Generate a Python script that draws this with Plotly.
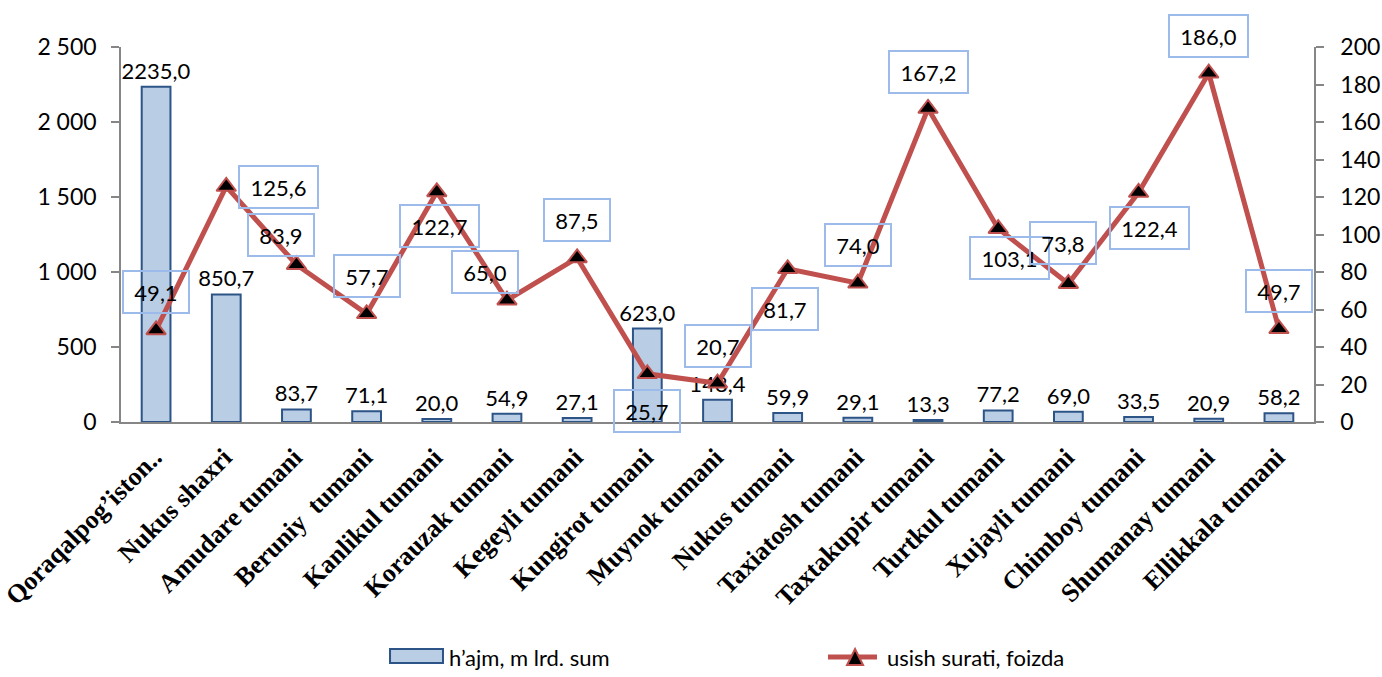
import plotly.graph_objects as go

categories = ["Qoraqalpog’iston..", "Nukus shaxri", "Amudare tumani", "Beruniy  tumani",
              "Kanlikul tumani", "Korauzak tumani", "Kegeyli tumani", "Kungirot tumani",
              "Muynok tumani", "Nukus tumani", "Taxiatosh tumani", "Taxtakupir tumani",
              "Turtkul tumani", "Xujayli tumani", "Chimboy tumani", "Shumanay tumani",
              "Ellikkala tumani"]
hajm = [2235.0, 850.7, 83.7, 71.1, 20.0, 54.9, 27.1, 623.0, 148.4, 59.9, 29.1, 13.3,
        77.2, 69.0, 33.5, 20.9, 58.2]
usish = [49.1, 125.6, 83.9, 57.7, 122.7, 65.0, 87.5, 25.7, 20.7, 81.7, 74.0, 167.2,
         103.1, 73.8, 122.4, 186.0, 49.7]
left_ticks = [0, 500, 1000, 1500, 2000, 2500]
right_ticks = [0, 20, 40, 60, 80, 100, 120, 140, 160, 180, 200]
bar_name = "h’ajm, m lrd. sum"
line_name = "usish surati, foizda"

# label offsets (px) for the growth-rate data labels (style only)
shift_x = [0, 52, -15, 0, 3, -22, 0, 0, 0, -3, 0, 0, 11, -5, 11, 0, 0]
shift_y = [38, 0, 30, 38, -34, 28, 38, -37, 37, -40, 38, 37, -29, 41, -35, 37, 38]

def fmt(v):
    return f"{v:.1f}".replace(".", ",")

NUM_FONT = "Lato, 'Open Sans', sans-serif"
CAT_FONT = "'Liberation Serif', 'Times New Roman', serif"
BAR_FILL = "#B9CDE5"
BAR_EDGE = "#2C5487"
LINE_COLOR = "#C0504D"

fig = go.Figure()
fig.add_trace(go.Bar(
    x=categories, y=hajm, name=bar_name, showlegend=False,
    marker=dict(color=BAR_FILL, line=dict(color=BAR_EDGE, width=2)),
    width=0.41,
    text=[fmt(v) for v in hajm], textposition="outside", constraintext="none",
    textfont=dict(family=NUM_FONT, size=22, color="black"),
    cliponaxis=False,
))
fig.add_trace(go.Scatter(
    x=categories, y=usish, name=line_name, yaxis="y2", showlegend=False,
    mode="lines+markers",
    line=dict(color=LINE_COLOR, width=5),
    marker=dict(symbol="triangle-up", size=17, color="black",
                line=dict(color=LINE_COLOR, width=2)),
    cliponaxis=False,
))

for i, (c, v) in enumerate(zip(categories, usish)):
    t = fmt(v)
    fig.add_annotation(
        x=c, y=v, xref="x", yref="y2", text=t, showarrow=False,
        xshift=shift_x[i], yshift=shift_y[i],
        font=dict(family=NUM_FONT, size=22, color="black"),
        bordercolor="#9DBBEA", borderwidth=2, borderpad=2,
        width=13 * len(t) + 8, height=36,
        bgcolor="rgba(0,0,0,0)",
    )

# ---- custom legend (Excel-style), drawn in paper coordinates ----
LEG_Y = -0.6267
# bar series: wide rectangle + label
fig.add_shape(type="rect", xref="paper", yref="paper",
              x0=0.2255, x1=0.2699, y0=-0.6427, y1=-0.6053,
              fillcolor=BAR_FILL, line=dict(color=BAR_EDGE, width=2))
fig.add_annotation(xref="paper", yref="paper", x=0.2733, y=LEG_Y,
                   xanchor="left", yanchor="middle", showarrow=False, text=bar_name,
                   font=dict(family=NUM_FONT, size=22, color="black"))
# line series: line segment + triangle marker + label
fig.add_shape(type="line", xref="paper", yref="paper",
              x0=0.5926, x1=0.6337, y0=LEG_Y, y1=LEG_Y,
              line=dict(color=LINE_COLOR, width=5))
fig.add_shape(type="path", xref="paper", yref="paper",
              path="M 0.6086,-0.6480 L 0.6153,-0.6053 L 0.6220,-0.6480 Z",
              fillcolor="black", line=dict(color=LINE_COLOR, width=2))
fig.add_annotation(xref="paper", yref="paper", x=0.6404, y=LEG_Y,
                   xanchor="left", yanchor="middle", showarrow=False, text=line_name,
                   font=dict(family=NUM_FONT, size=22, color="black"))

fig.update_layout(
    width=1382, height=677,
    margin=dict(l=121, r=68, t=47, b=255),
    paper_bgcolor="white", plot_bgcolor="white",
    separators=", ",
    showlegend=False,
    xaxis=dict(
        type="category", range=[-0.5, len(categories) - 0.5],
        showgrid=False, showline=True, linecolor="#868686", linewidth=1.5,
        ticks="", tickangle=-45, automargin=False, ticklabelstandoff=8,
        ticklabelshift=-2,
        tickfont=dict(family=CAT_FONT, size=26, color="black", weight="bold"),
    ),
    yaxis=dict(
        range=[0, 2500], tickvals=left_ticks, tickformat=",d", automargin=False,
        showgrid=False, zeroline=False, showline=True, linecolor="#868686", linewidth=1.5,
        ticks="outside", ticklen=8, tickcolor="#868686", tickwidth=1.5,
        ticklabelstandoff=10,
        tickfont=dict(family=NUM_FONT, size=23, color="black"),
    ),
    yaxis2=dict(
        range=[0, 200], tickvals=right_ticks, overlaying="y", side="right", automargin=False,
        showgrid=False, zeroline=False, showline=True, linecolor="#868686", linewidth=1.5,
        ticks="outside", ticklen=8, tickcolor="#868686", tickwidth=1.5,
        ticklabelstandoff=12,
        tickfont=dict(family=NUM_FONT, size=23, color="black"),
    ),
)

# remove the browser's default 8px body margin so the figure sits at the page origin
fig.write_html("out.html", config={"displayModeBar": False},
               post_script="document.body.style.margin='0';")
